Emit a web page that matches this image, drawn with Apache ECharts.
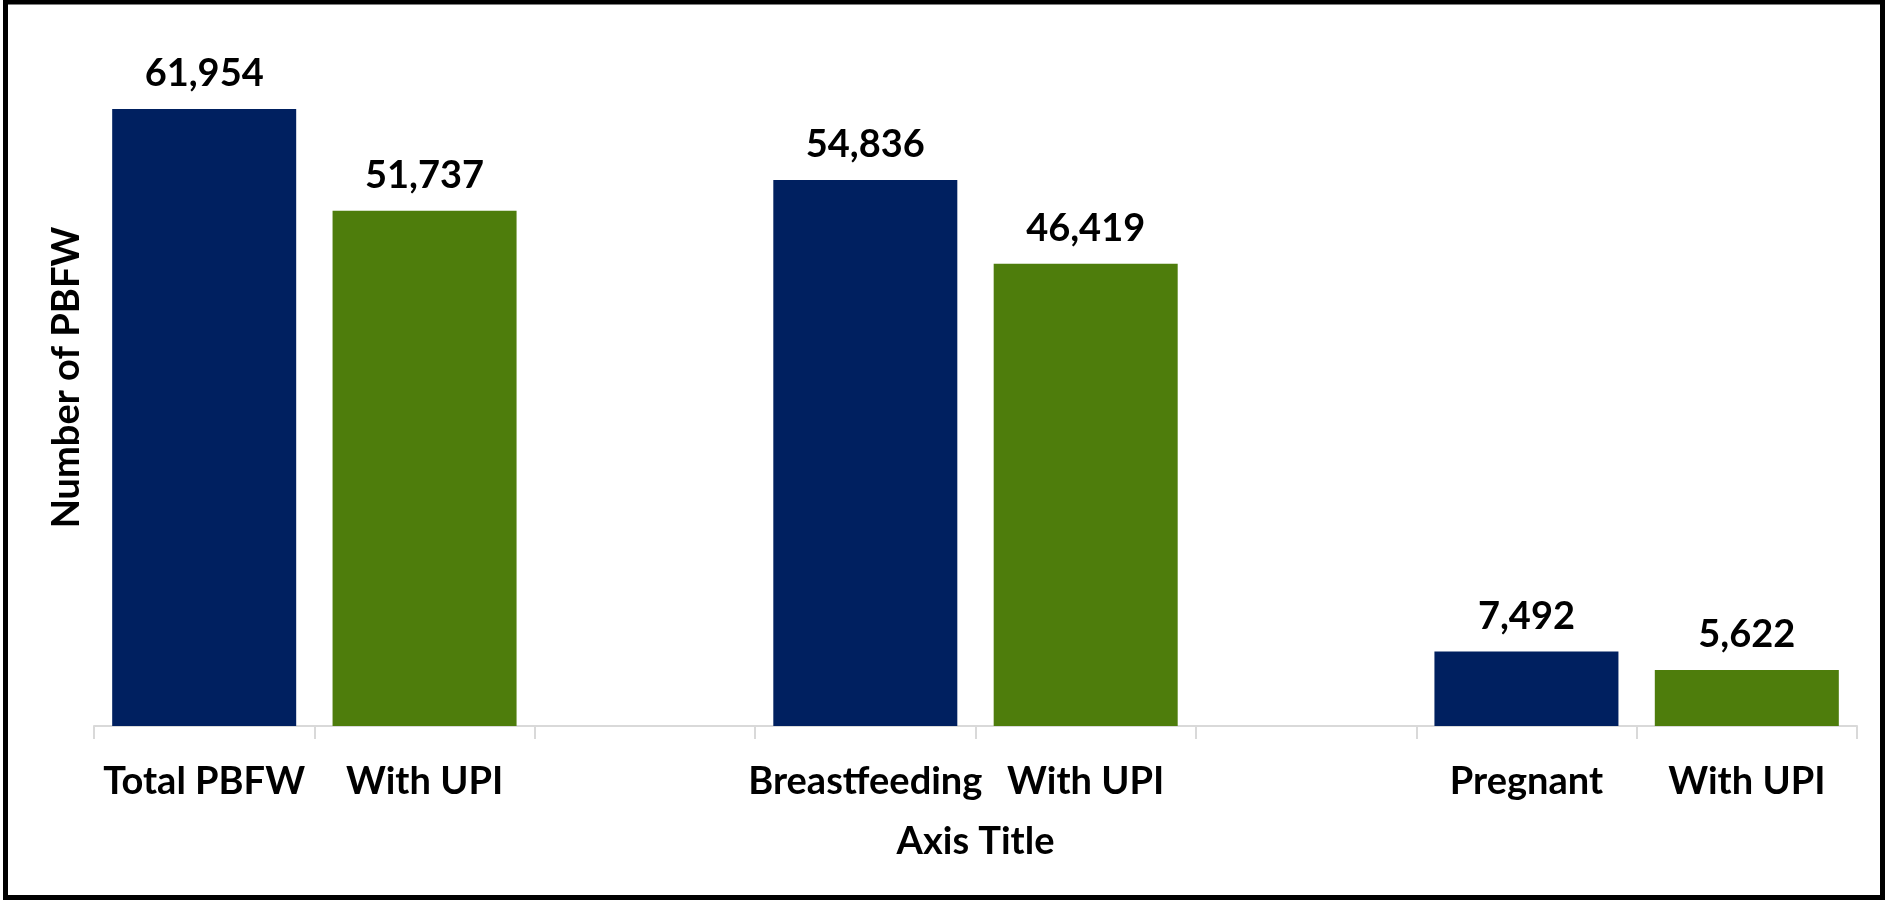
<!DOCTYPE html>
<html>
<head>
<meta charset="utf-8">
<title>PBFW with UPI</title>
<script src="https://cdn.jsdelivr.net/npm/echarts@6/dist/echarts.min.js"></script>
<style>
  html, body { margin: 0; padding: 0; background: #fff; }
  #chartsDiv { width: 1885px; height: 900px; }
</style>
</head>
<body>
<div id="chartsDiv"></div>
<script>
// categories on the x axis, the blank ones are the gaps between groups
var categories = ['Total PBFW', 'With UPI', '', 'Breastfeeding', 'With UPI', '', 'Pregnant', 'With UPI'];
var counts = [61954, 51737, '-', 54836, 46419, '-', 7492, 5622];

var navy = '#002060';
var green = '#4e7d0c';
var fontName = 'Lato';

var chart = echarts.init(document.getElementById('chartsDiv'));

var opt = {
    backgroundColor: '#fff',
    animation: false,
    textStyle: { fontFamily: fontName },
    graphic: [{
        type: 'rect',
        shape: { x: 5.5, y: 2, width: 1877, height: 895.5 },
        style: { fill: 'none', stroke: '#000', lineWidth: 5 },
        silent: true
    }],
    grid: {
        left: 94,
        right: 28,
        top: 29,
        bottom: 174
    },
    xAxis: {
        type: 'category',
        data: categories,
        name: 'Axis Title',
        nameLocation: 'middle',
        nameGap: 97,
        nameTextStyle: { fontFamily: fontName, fontWeight: 'bold', fontSize: 38, color: '#000' },
        axisLine: { lineStyle: { color: '#d9d9d9', width: 2 } },
        axisTick: { show: true, length: 13, lineStyle: { color: '#d9d9d9', width: 2 } },
        axisLabel: {
            interval: 0,
            margin: 37,
            fontFamily: fontName,
            fontWeight: 'bold',
            fontSize: 38,
            color: '#000'
        }
    },
    yAxis: {
        type: 'value',
        min: 0,
        max: 70000,
        name: 'Number of PBFW',
        nameLocation: 'middle',
        nameGap: 8,
        nameTextStyle: { fontFamily: fontName, fontWeight: 'bold', fontSize: 38, color: '#000' },
        axisLine: { show: false },
        axisTick: { show: false },
        axisLabel: { show: false },
        splitLine: { show: false }
    },
    series: [{
        type: 'bar',
        data: counts,
        barCategoryGap: '16.5%',
        itemStyle: {
            color: function (p) {
                return p.name === 'With UPI' ? green : navy;
            }
        },
        label: {
            show: true,
            position: 'top',
            distance: 16,
            fontFamily: fontName,
            fontWeight: 'bold',
            fontSize: 38,
            color: '#000',
            formatter: function (p) {
                return Number(p.value).toLocaleString('en-US');
            }
        }
    }]
};

chart.setOption(opt);
</script>
</body>
</html>
